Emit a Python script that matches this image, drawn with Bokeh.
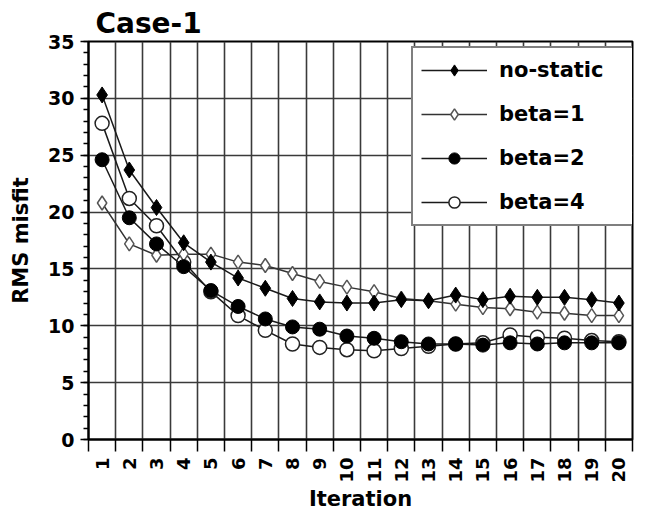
import numpy as np
from bokeh.plotting import figure
from bokeh.models import FixedTicker, Legend, LegendItem, Range1d
from bokeh.embed import file_html
from bokeh.resources import INLINE

# RMS misfit per inversion iteration
iterations = list(range(1, 21))
no_static = [30.3, 23.7, 20.4, 17.3, 15.6, 14.2, 13.3, 12.4, 12.1, 12.0,
             12.0, 12.3, 12.2, 12.7, 12.3, 12.6, 12.5, 12.5, 12.3, 12.0]
beta_1 = [20.8, 17.2, 16.2, 16.3, 16.3, 15.6, 15.3, 14.6, 13.9, 13.4,
          13.0, 12.4, 12.2, 11.9, 11.6, 11.5, 11.2, 11.1, 10.9, 10.9]
beta_2 = [24.6, 19.5, 17.2, 15.2, 13.1, 11.7, 10.6, 9.9, 9.7, 9.1,
          8.9, 8.6, 8.4, 8.4, 8.3, 8.5, 8.4, 8.5, 8.5, 8.5]
beta_4 = [27.8, 21.2, 18.8, 15.6, 13.0, 10.9, 9.6, 8.4, 8.1, 7.9,
          7.8, 8.0, 8.2, 8.4, 8.5, 9.2, 9.0, 8.9, 8.7, 8.6]
y_ticks = [0, 5, 10, 15, 20, 25, 30, 35]

FONT = "DejaVu Sans"

p = figure(width=648, height=513, output_backend="svg", toolbar_location=None,
           x_range=Range1d(0.5, 20.5), y_range=Range1d(0, 35),
           min_border_left=88, min_border_right=16, min_border_top=41,
           min_border_bottom=74, title="Case-1")
p.background_fill_color = "white"
p.border_fill_color = "white"
p.outline_line_color = "black"
p.outline_line_width = 2

p.title.text_font = FONT
p.title.text_font_style = "bold"
p.title.text_font_size = "28px"
p.title.text_color = "black"
p.title.align = "left"
p.title.offset = 7
p.title.standoff = 4

# category boundaries between iterations
bounds = [i + 0.5 for i in range(0, 21)]

xa = p.xaxis[0]
xa.ticker = FixedTicker(ticks=iterations, minor_ticks=bounds)
xa.major_tick_line_color = None
xa.major_tick_out = 12
xa.major_tick_in = 0
xa.minor_tick_out = 12
xa.minor_tick_in = 0
xa.minor_tick_line_color = "black"
xa.major_label_orientation = np.pi / 2
xa.major_label_standoff = 6
xa.axis_label = "Iteration"
xa.axis_label_standoff = 1

ya = p.yaxis[0]
ya.ticker = FixedTicker(ticks=y_ticks, minor_ticks=list(range(0, 36)))
ya.major_tick_out = 8
ya.major_tick_in = 0
ya.minor_tick_out = 5
ya.minor_tick_in = 0
ya.major_label_standoff = 6
ya.axis_label = "RMS misfit"
ya.axis_label_standoff = 12

for ax in (xa, ya):
    ax.axis_line_color = "black"
    ax.axis_line_width = 2
    ax.major_tick_line_width = 1.5
    ax.minor_tick_line_width = 1.5
    ax.major_label_text_font = FONT
    ax.major_label_text_font_style = "bold"
    ax.major_label_text_color = "black"
    ax.axis_label_text_font = FONT
    ax.axis_label_text_font_style = "bold"
    ax.axis_label_text_color = "black"
    ax.axis_label_text_font_size = "21px"
xa.major_label_text_font_size = "18px"
ya.major_label_text_font_size = "19px"

p.xgrid.ticker = FixedTicker(ticks=bounds[1:-1])
p.ygrid.ticker = FixedTicker(ticks=y_ticks[1:-1])
for g in (p.xgrid, p.ygrid):
    g.grid_line_color = "#3a3a3a"
    g.grid_line_width = 1.6

LINE = "#1a1a1a"

# open circles, beta=4
l4 = p.line(iterations, beta_4, line_color=LINE, line_width=1.5)
m4 = p.scatter(iterations, beta_4, marker="circle", size=14, fill_color="white",
               line_color="#222222", line_width=1.5)
# open diamonds, beta=1
l1 = p.line(iterations, beta_1, line_color="#333333", line_width=1.5)
m1 = p.scatter(iterations, beta_1, marker="diamond", size=14,
               fill_color="white", line_color="#555555", line_width=1.5)
# filled circles, beta=2
l2 = p.line(iterations, beta_2, line_color=LINE, line_width=1.5)
m2 = p.scatter(iterations, beta_2, marker="circle", size=14, fill_color="black",
               line_color="black")
# filled diamonds, no static correction
l0 = p.line(iterations, no_static, line_color=LINE, line_width=1.5)
m0 = p.scatter(iterations, no_static, marker="diamond", size=16,
               fill_color="black", line_color="black")

legend = Legend(items=[
    LegendItem(label="no-static", renderers=[l0, m0]),
    LegendItem(label="beta=1", renderers=[l1, m1]),
    LegendItem(label="beta=2", renderers=[l2, m2]),
    LegendItem(label="beta=4", renderers=[l4, m4]),
], location=(323, 213))
legend.label_text_font = FONT
legend.label_text_font_style = "bold"
legend.label_text_font_size = "21px"
legend.label_text_color = "black"
legend.padding = 8
legend.spacing = 16
legend.label_height = 28
legend.glyph_height = 28
legend.glyph_width = 66
legend.label_standoff = 12
legend.label_width = 126
legend.border_line_color = "black"
legend.border_line_width = 2
legend.background_fill_color = "white"
legend.background_fill_alpha = 1.0
p.add_layout(legend, "center")

open("out.html", "w").write(file_html(p, INLINE))
